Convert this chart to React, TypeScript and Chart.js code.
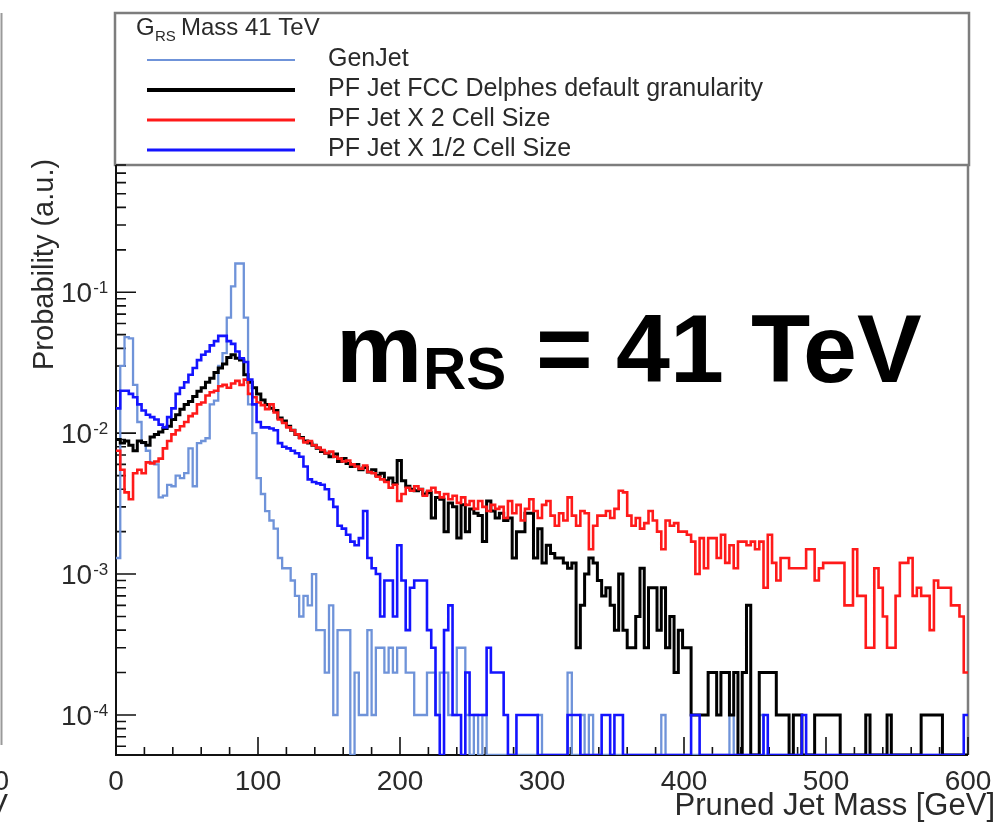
import React, { useEffect, useRef } from 'react';
import { Chart, registerables } from 'chart.js';

Chart.register(...registerables);

// ---------------- data ----------------
const MASS_MIN = 0;
const MASS_MAX = 600;
const BIN_WIDTH = 3; // GeV per bin (200 bins)

const SERIES_NAMES = [
  'GenJet',
  'PF Jet FCC Delphes default granularity',
  'PF Jet X 2 Cell Size',
  'PF Jet X 1/2 Cell Size',
];
const SERIES_COLORS = ['#6f93d9', '#000000', '#ff1a1a', '#1414ff'];

const X_TICK_LABELS = ['0', '100', '200', '300', '400', '500', '600'];
const Y_TICK_EXPONENTS = [-4, -3, -2, -1];

// Probability per 3 GeV bin, 0 - 600 GeV (10 bins per row = 30 GeV)
const genJet = [
  0.0013, 0.03, 0.048, 0.047, 0.022, 0.012, 0.0085, 0.0075, 0.0062, 0.006,
  0.0035, 0.0036, 0.0043, 0.0042, 0.005, 0.0048, 0.0052, 0.0078, 0.0042, 0.0085,
  0.0088, 0.0092, 0.016, 0.017, 0.03, 0.037, 0.066, 0.11, 0.16, 0.16,
  0.066, 0.016, 0.01, 0.0048, 0.0037, 0.0028, 0.0024, 0.0021, 0.0013, 0.0011,
  0.0011, 0.0009, 0.0007, 0.0005, 0.0007, 0.0006, 0.001, 0.0004, 0.0004, 0.0002,
  0.0006, 0.0001, 0.0004, 0.0004, 0.0004, 0, 0.0002, 0.0001, 0.0001, 0.0004,
  0.0001, 0.0003, 0.0003, 0.0002, 0.0003, 0.0002, 0.0003, 0.0003, 0.0002, 0.0002,
  0.0001, 0.0001, 0.0001, 0.0002, 0.0002, 0.0001, 0.0002, 0.0002, 0.0001, 0.0001,
  0.0003, 0.0003, 0.0001, 0, 0.0001, 0, 0.0001, 0, 0, 0,
  0, 0, 0, 0, 0, 0, 0, 0, 0, 0.0001,
  0, 0, 0, 0, 0, 0, 0.0002, 0, 0, 0.0001,
  0, 0.0001, 0, 0, 0, 0, 0, 0, 0, 0,
  0, 0, 0, 0, 0, 0, 0, 0, 0.0001, 0,
  0, 0, 0, 0, 0, 0, 0, 0, 0, 0,
  0, 0, 0, 0, 0.0001, 0, 0, 0, 0, 0,
  0, 0.0001, 0, 0, 0, 0, 0, 0, 0, 0,
  0, 0, 0, 0, 0, 0, 0, 0, 0, 0,
  0, 0, 0, 0, 0, 0, 0, 0, 0, 0,
  0, 0, 0, 0, 0, 0, 0, 0, 0, 0,
  0, 0, 0, 0, 0, 0, 0, 0, 0, 0,
];

const pfDefault = [
  0.009, 0.0085, 0.0088, 0.0082, 0.0075, 0.0088, 0.0086, 0.0082, 0.0094, 0.0098,
  0.0102, 0.0108, 0.0112, 0.0125, 0.0135, 0.0148, 0.016, 0.0168, 0.0182, 0.0198,
  0.021, 0.023, 0.0245, 0.027, 0.029, 0.031, 0.0345, 0.036, 0.034, 0.033,
  0.026, 0.023, 0.021, 0.019, 0.0172, 0.016, 0.015, 0.0145, 0.0128, 0.0122,
  0.0112, 0.0105, 0.0098, 0.0093, 0.0088, 0.0085, 0.0082, 0.0078, 0.0074, 0.0072,
  0.0068, 0.0071, 0.0063, 0.0066, 0.0061, 0.0058, 0.006, 0.0055, 0.0057, 0.0053,
  0.0055, 0.005, 0.0052, 0.0046, 0.0048, 0.0044, 0.0064, 0.0046, 0.0042, 0.004,
  0.0039, 0.004, 0.0037, 0.0038, 0.0025, 0.0035, 0.0034, 0.002, 0.0032, 0.003,
  0.0018, 0.0031, 0.002, 0.0029, 0.0027, 0.0026, 0.0017, 0.0033, 0.0028, 0.0025,
  0.0027, 0.0024, 0.0025, 0.0013, 0.002, 0.002, 0.0027, 0.0027, 0.0013, 0.0021,
  0.0012, 0.0016, 0.0014, 0.0013, 0.0013, 0.0012, 0.0011, 0.0012, 0.0003, 0.0006,
  0.001, 0.0013, 0.0012, 0.0009, 0.0007, 0.0008, 0.0006, 0.0004, 0.001, 0.0004,
  0.0003, 0.0003, 0.0005, 0.0011, 0.0003, 0.0008, 0.0008, 0.0004, 0.0008, 0.0003,
  0.0005, 0.0002, 0.0004, 0.0003, 0.0003, 0.0001, 0.0001, 0.0001, 0.0001, 0.0002,
  0.0002, 0.0001, 0.0002, 0.0002, 0.0001, 0.0002, 0, 0.0002, 0.0006, 0,
  0, 0.0002, 0.0002, 0.0002, 0.0002, 0.0001, 0.0001, 0.0001, 0, 0.0001,
  0.0001, 0, 0, 0, 0.0001, 0.0001, 0.0001, 0.0001, 0.0001, 0.0001,
  0, 0, 0, 0, 0, 0, 0.0001, 0, 0, 0,
  0, 0.0001, 0, 0, 0, 0, 0, 0, 0, 0.0001,
  0.0001, 0.0001, 0.0001, 0.0001, 0, 0, 0, 0, 0, 0,
];

const pfX2 = [
  0.0075, 0.0055, 0.0038, 0.0034, 0.0052, 0.0055, 0.0052, 0.0062, 0.0061, 0.0063,
  0.0066, 0.0078, 0.0088, 0.0098, 0.0105, 0.0112, 0.012, 0.0132, 0.0138, 0.016,
  0.0165, 0.0185, 0.0195, 0.02, 0.0215, 0.022, 0.021, 0.0225, 0.0235, 0.022,
  0.024, 0.019, 0.018, 0.0165, 0.0158, 0.0148, 0.016, 0.014, 0.0125, 0.0118,
  0.011, 0.0105, 0.0098, 0.0092, 0.0086, 0.0088, 0.0082, 0.0079, 0.0076, 0.0072,
  0.0074, 0.0068, 0.0066, 0.0063, 0.0064, 0.006, 0.0058, 0.0056, 0.0059, 0.0053,
  0.0052, 0.0049, 0.0047, 0.0045, 0.0041, 0.0043, 0.0033, 0.0037, 0.0041, 0.0039,
  0.0042, 0.004, 0.0036, 0.0039, 0.0041, 0.0038, 0.0035, 0.0037, 0.0034, 0.0036,
  0.0032, 0.0035, 0.0031, 0.0033, 0.0029, 0.0033, 0.003, 0.0028, 0.0031, 0.0029,
  0.003, 0.0025, 0.0033, 0.0027, 0.0031, 0.0024, 0.0029, 0.0034, 0.0028, 0.0025,
  0.0031, 0.0033, 0.0026, 0.0022, 0.0027, 0.0024, 0.0035, 0.0026, 0.0022, 0.0028,
  0.0027, 0.0015, 0.0022, 0.0026, 0.0026, 0.0028, 0.0025, 0.0029, 0.0039, 0.0038,
  0.0026, 0.0022, 0.0025, 0.0021, 0.0023, 0.0028, 0.0024, 0.002, 0.0015, 0.0024,
  0.0022, 0.0023, 0.002, 0.002, 0.0019, 0.0017, 0.001, 0.0018, 0.0011, 0.0018,
  0.0018, 0.0013, 0.0019, 0.0012, 0.0016, 0.0011, 0.0017, 0.0017, 0.0016, 0.0017,
  0.0015, 0.0017, 0.0008, 0.0019, 0.0012, 0.0009, 0.0013, 0.0013, 0.0011, 0.0011,
  0.0011, 0.0011, 0.0015, 0.0015, 0.0009, 0.0011, 0.0012, 0.0012, 0.0012, 0.0012,
  0.0012, 0.0006, 0.0006, 0.0015, 0.0007, 0.0007, 0.0003, 0.0003, 0.0011, 0.0008,
  0.0005, 0.0003, 0.0003, 0.0007, 0.0012, 0.0012, 0.0013, 0.0007, 0.0008, 0.0007,
  0.0007, 0.0004, 0.0009, 0.0008, 0.0008, 0.0008, 0.0006, 0.0006, 0.0005, 0.0002,
];

const pfHalf = [
  0.015, 0.02, 0.02, 0.019, 0.018, 0.016, 0.0145, 0.0135, 0.013, 0.0125,
  0.0115, 0.011, 0.013, 0.015, 0.019, 0.021, 0.023, 0.026, 0.029, 0.033,
  0.036, 0.038, 0.042, 0.045, 0.049, 0.049, 0.045, 0.043, 0.038, 0.034,
  0.032, 0.024, 0.016, 0.012, 0.011, 0.011, 0.0108, 0.0105, 0.0085, 0.008,
  0.0078, 0.0075, 0.0072, 0.0068, 0.0058, 0.0047, 0.0045, 0.0044, 0.0043, 0.004,
  0.0034, 0.003, 0.0022, 0.0021, 0.0019, 0.0017, 0.0016, 0.0018, 0.0028, 0.0013,
  0.0011, 0.001, 0.0005, 0.0009, 0.0009, 0.0005, 0.0016, 0.0009, 0.0004, 0.0008,
  0.0009, 0.0009, 0.0009, 0.0004, 0.0003, 0.0001, 0, 0.0004, 0.0006, 0.0001,
  0.0001, 0, 0.0002, 0.0001, 0.0001, 0.0001, 0.0001, 0.0003, 0.0002, 0.0002,
  0.0002, 0.0001, 0, 0, 0.0001, 0.0001, 0.0001, 0.0001, 0.0001, 0,
  0, 0, 0, 0, 0, 0, 0.0001, 0.0001, 0.0001, 0,
  0, 0, 0, 0, 0.0001, 0.0001, 0, 0.0001, 0.0001, 0,
  0, 0, 0, 0, 0, 0, 0, 0, 0, 0,
  0, 0, 0, 0, 0, 0.0001, 0.0001, 0, 0, 0,
  0, 0, 0, 0, 0, 0, 0, 0, 0, 0,
  0, 0, 0.0001, 0, 0, 0, 0, 0, 0, 0,
  0, 0.0001, 0, 0, 0, 0, 0, 0, 0, 0,
  0, 0, 0, 0, 0, 0, 0, 0, 0, 0,
  0, 0, 0, 0, 0, 0, 0, 0, 0, 0,
  0, 0, 0, 0, 0, 0, 0, 0, 0, 0.0001,
];

const SERIES_VALUES = [genJet, pfDefault, pfX2, pfHalf];
const SERIES_WIDTHS = [2.3, 3, 2.6, 2.6];

// axis range
const Y_MIN = 5.2e-5;
const Y_MAX = 0.8;

const FONT = '"Liberation Sans", Arial, Helvetica, sans-serif';
const TEXT = '#2a2a2a';

function histPoints(values: number[]) {
  // ROOT draws empty bins on the frame floor
  const pts = values.map((v, i) => ({ x: MASS_MIN + i * BIN_WIDTH, y: v > 0 ? v : Y_MIN }));
  const last = values[values.length - 1];
  pts.push({ x: MASS_MAX, y: last > 0 ? last : Y_MIN });
  return pts;
}

const rootStyle = {
  id: 'rootStyle',
  beforeDatasetsDraw(chart: any) {
    const { ctx, chartArea: a, scales } = chart;
    const xs = scales.x;
    const ys = scales.y;
    ctx.save();
    // legend box (shares its bottom edge with the frame top)
    ctx.strokeStyle = '#7d7d7d';
    ctx.lineWidth = 2.5;
    ctx.strokeRect(115, 13, 969 - 115, a.top - 13);
    ctx.beginPath();
    ctx.moveTo(a.right, a.top);
    ctx.lineTo(a.right, a.bottom);
    ctx.stroke();
    // axes
    ctx.strokeStyle = '#111';
    ctx.lineWidth = 2;
    ctx.beginPath();
    ctx.moveTo(a.left, a.top);
    ctx.lineTo(a.left, a.bottom);
    ctx.lineTo(a.right, a.bottom);
    ctx.stroke();
    // x ticks
    ctx.lineWidth = 1.6;
    ctx.beginPath();
    for (let v = MASS_MIN; v <= MASS_MAX; v += 20) {
      const px = xs.getPixelForValue(v);
      const len = v % 100 === 0 ? 18 : 8;
      ctx.moveTo(px, a.bottom);
      ctx.lineTo(px, a.bottom - len);
    }
    // y ticks (log)
    for (let e = -5; e <= 0; e++) {
      for (let m = 1; m <= 9; m++) {
        const v = m * Math.pow(10, e);
        if (v < Y_MIN || v > Y_MAX) continue;
        const py = ys.getPixelForValue(v);
        const len = m === 1 ? 20 : 10;
        ctx.moveTo(a.left, py);
        ctx.lineTo(a.left + len, py);
      }
    }
    ctx.stroke();
    ctx.restore();
  },
  afterDraw(chart: any) {
    const { ctx, scales } = chart;
    const xs = scales.x;
    const ys = scales.y;
    ctx.save();
    ctx.fillStyle = TEXT;
    // x tick labels
    ctx.font = `28px ${FONT}`;
    ctx.textAlign = 'center';
    ctx.textBaseline = 'alphabetic';
    X_TICK_LABELS.forEach((t) => {
      ctx.fillText(t, xs.getPixelForValue(Number(t)), 790);
    });
    // y tick labels 10^k
    Y_TICK_EXPONENTS.forEach((k) => {
      const py = ys.getPixelForValue(Math.pow(10, k));
      ctx.textAlign = 'left';
      ctx.font = `28px ${FONT}`;
      ctx.textBaseline = 'middle';
      ctx.fillText('10', 61, py + 2);
      const w = ctx.measureText('10').width;
      ctx.font = `17px ${FONT}`;
      ctx.textBaseline = 'alphabetic';
      ctx.fillText(String(k), 61 + w + 1, py + 1);
    });
    // axis titles
    ctx.font = `31px ${FONT}`;
    ctx.textAlign = 'right';
    ctx.textBaseline = 'alphabetic';
    ctx.fillText('Pruned Jet Mass [GeV]', 995, 815);
    ctx.save();
    ctx.translate(53, 370);
    ctx.rotate(-Math.PI / 2);
    ctx.font = `29px ${FONT}`;
    ctx.textAlign = 'left';
    ctx.fillText('Probability (a.u.)', 0, 0);
    ctx.restore();

    // legend header
    ctx.textAlign = 'left';
    ctx.font = `24px ${FONT}`;
    ctx.fillText('G', 136, 35);
    ctx.font = `15px ${FONT}`;
    ctx.fillText('RS', 155, 41);
    ctx.font = `24px ${FONT}`;
    ctx.fillText('Mass 41 TeV', 181, 35);
    // legend entries
    const rows = [60, 90, 120, 150];
    SERIES_NAMES.forEach((name, i) => {
      ctx.strokeStyle = SERIES_COLORS[i];
      ctx.lineWidth = i === 1 ? 4 : i === 0 ? 2 : 3;
      ctx.beginPath();
      ctx.moveTo(147, rows[i]);
      ctx.lineTo(295, rows[i]);
      ctx.stroke();
      ctx.fillStyle = TEXT;
      ctx.font = `25px ${FONT}`;
      ctx.fillText(name, 328, rows[i] + 6);
    });

    // big annotation
    ctx.fillStyle = '#000';
    ctx.font = `bold 97px ${FONT}`;
    ctx.fillText('m', 336, 382);
    ctx.font = `bold 60px ${FONT}`;
    ctx.fillText('RS', 423, 389);
    ctx.font = `bold 97px ${FONT}`;
    ctx.fillText('=', 536, 382);
    ctx.fillText('41', 616, 382);
    ctx.fillText('TeV', 751, 382);

    // remnants of the neighbouring panel on the left edge
    ctx.strokeStyle = '#9a9a9a';
    ctx.lineWidth = 2;
    ctx.beginPath();
    ctx.moveTo(1.5, 13);
    ctx.lineTo(1.5, 745);
    ctx.stroke();
    ctx.fillStyle = TEXT;
    ctx.font = `28px ${FONT}`;
    ctx.textAlign = 'right';
    ctx.fillText('0', 9, 790);
    ctx.font = `30px ${FONT}`;
    ctx.fillText('V', 8, 814);
    ctx.restore();
  },
};

export default function App() {
  const ref = useRef<HTMLCanvasElement | null>(null);
  useEffect(() => {
    if (!ref.current) return;
    const datasets = SERIES_VALUES.map((vals, i) => ({
      label: SERIES_NAMES[i],
      data: histPoints(vals),
      borderColor: SERIES_COLORS[i],
      backgroundColor: SERIES_COLORS[i],
      borderWidth: SERIES_WIDTHS[i],
      stepped: 'before' as const,
      pointRadius: 0,
      fill: false,
      tension: 0,
      order: SERIES_NAMES.length - i,
      borderJoinStyle: 'miter' as const,
    }));
    const chart = new Chart(ref.current, {
      type: 'line',
      data: { datasets },
      options: {
        responsive: false,
        animation: false,
        devicePixelRatio: 1,
        layout: { padding: { left: 116, right: 1002 - 968, top: 165, bottom: 823 - 755 } },
        scales: {
          x: { type: 'linear', min: MASS_MIN, max: MASS_MAX, display: false },
          y: { type: 'logarithmic', min: Y_MIN, max: Y_MAX, display: false },
        },
        plugins: { legend: { display: false }, tooltip: { enabled: false } },
      },
      plugins: [rootStyle],
    } as any);
    return () => chart.destroy();
  }, []);
  return (
    <div style={{ position: 'absolute', left: 0, top: 0, width: 1002, height: 823, background: '#fff' }}>
      <canvas ref={ref} width={1002} height={823} style={{ display: 'block' }} />
    </div>
  );
}
